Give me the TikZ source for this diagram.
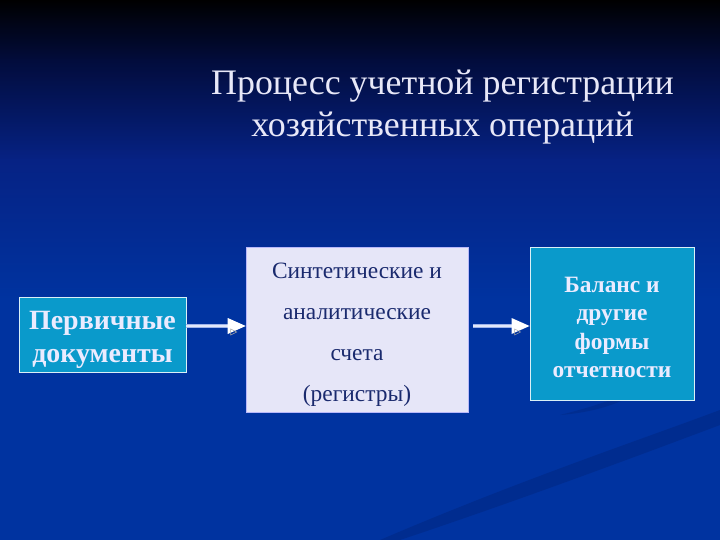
\documentclass[tikz,border=0pt]{standalone}
\usepackage{fontspec}
\setmainfont{Liberation Serif}
\usetikzlibrary{arrows.meta}
\definecolor{bgblue}{HTML}{0033A0}
\definecolor{bgmid}{HTML}{062284}
\definecolor{bgdark}{HTML}{020C3C}
\definecolor{cyanbox}{HTML}{0A9ACB}
\definecolor{lavbox}{HTML}{E6E6F8}
\definecolor{navytext}{HTML}{1A2A6E}
\definecolor{titletext}{HTML}{E8E8F8}
\definecolor{linecol}{HTML}{9FB4EA}
\definecolor{swoosh}{HTML}{002A88}
\tikzset{
  cbox/.style={draw=white!85!cyanbox, line width=0.8bp, fill=cyanbox, inner sep=0pt},
  lbox/.style={draw=lavbox!80!blue, line width=0.6bp, fill=lavbox, inner sep=0pt},
  ctext/.style={text=white!92!blue, align=center, inner sep=0pt},
  ltext/.style={text=navytext, align=center, inner sep=0pt},
  flow/.style={draw=linecol, line width=4.5bp},
  flowin/.style={draw=white!70!linecol, line width=1.2bp},
}
\begin{document}
\begin{tikzpicture}[x=1bp,y=-1bp]
\useasboundingbox (0,0) rectangle (720,540);
\fill[bgblue] (0,0) rectangle (720,540);
\shade[top color=black, bottom color=bgdark] (0,0) rectangle (720,61);
\shade[top color=bgdark, bottom color=bgmid] (0,60) rectangle (720,161);
\shade[top color=bgmid, bottom color=bgblue] (0,160) rectangle (720,300);
% faint swooshes
\fill[swoosh, opacity=0.7] (380,540) .. controls (520,480) and (640,440) .. (720,410) -- (720,425) .. controls (640,455) and (520,500) .. (400,540) -- cycle;
\fill[swoosh, opacity=0.6] (560,415) .. controls (600,405) and (630,395) .. (660,375) .. controls (635,400) and (600,412) .. (560,415) -- cycle;
% title
\node[text=titletext, font=\fontsize{36}{43}\selectfont, align=center] (title) at (442.5,107) {Процесс учетной регистрации\\хозяйственных операций};
% boxes
\node[cbox, minimum width=167bp, minimum height=75bp] (b1) at (102.5,334.5) {};
\node[ctext, font=\bfseries\fontsize{28}{33}\selectfont] (t1) at ([yshift=-5bp]b1.center) {Первичные\\документы};
\node[lbox, minimum width=222bp, minimum height=165bp] (b2) at (357,329.5) {};
\node[ltext, font=\fontsize{23.5}{41}\selectfont] (t2) at ([yshift=-5bp]b2.center) {Синтетические и\\аналитические\\счета\\(регистры)};
\node[cbox, minimum width=164bp, minimum height=153bp] (b3) at (612,323.5) {};
\node[ctext, font=\bfseries\fontsize{23.5}{28.5}\selectfont] (t3) at ([yshift=-4bp]b3.center) {Баланс и\\другие\\формы\\отчетности};
% connectors
\coordinate (a1s) at (b1.east |- 0,326);
\coordinate (a1e) at (b2.west |- 0,326);
\coordinate (a2s) at (473,326);
\coordinate (a2e) at (b3.west |- 0,326);
\foreach \s/\e in {a1s/a1e, a2s/a2e} {
  \draw[flow] (\s) -- ([xshift=-16bp]\e);
  \draw[flowin] (\s) -- ([xshift=-16bp]\e);
  \fill[white] (\e) -- ++(-18,-8) -- ++(0,16) -- cycle;
  \draw[gray!70, line width=0.5bp] ([xshift=-15bp,yshift=-3bp]\e) -- ++(6,3) -- ++(-6,3) -- cycle;
}
\end{tikzpicture}
\end{document}
